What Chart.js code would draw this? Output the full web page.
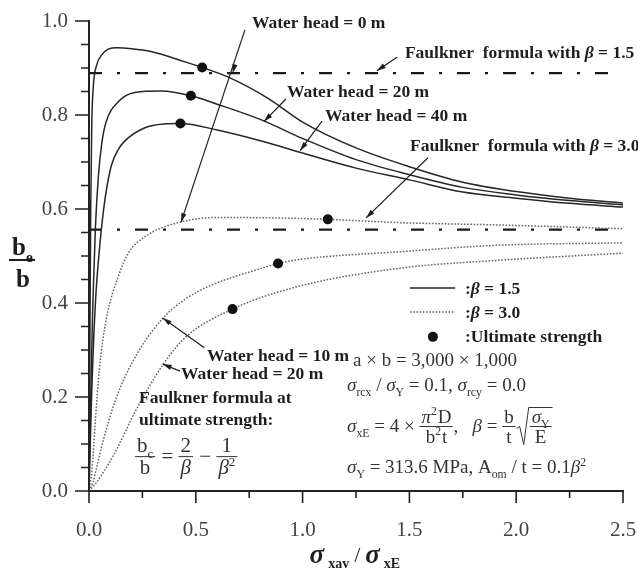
<!DOCTYPE html>
<html><head><meta charset="utf-8">
<script src="https://cdn.jsdelivr.net/npm/chart.js@4/dist/chart.umd.min.js"></script>
<style>html,body{margin:0;padding:0;background:#fff}canvas{display:block}</style>
</head><body>
<canvas id="c" width="638" height="570"></canvas>
<script>
// ---------------- data ----------------
const xTicksMajor = [0, 0.5, 1.0, 1.5, 2.0, 2.5];
const xTicksMinor = [0.25, 0.75, 1.25, 1.75, 2.25];
const yTicksMajor = [0, 0.2, 0.4, 0.6, 0.8, 1.0];
const yTicksMinor = [0.05,0.1,0.15,0.25,0.3,0.35,0.45,0.5,0.55,0.65,0.7,0.75,0.85,0.9,0.95];

// beta = 1.5 (solid)
const head0Beta15X = [0,0.004,0.008,0.013,0.02,0.035,0.06,0.09,0.13,0.2,0.29,0.45,0.53,0.65,0.84,1.0,1.25,1.5,1.75,2.0,2.25,2.5];
const head0Beta15Y = [0,0.3,0.6,0.78,0.86,0.905,0.928,0.94,0.943,0.941,0.935,0.913,0.901,0.881,0.835,0.785,0.73,0.69,0.657,0.637,0.623,0.613];
const head20Beta15X = [0,0.008,0.018,0.03,0.044,0.06,0.08,0.137,0.215,0.34,0.477,0.6,0.81,1.0,1.25,1.5,1.75,2.0,2.25,2.5];
const head20Beta15Y = [0,0.2,0.4,0.56,0.67,0.74,0.785,0.828,0.848,0.851,0.841,0.823,0.789,0.75,0.705,0.673,0.646,0.63,0.618,0.609];
const head40Beta15X = [0,0.012,0.03,0.05,0.067,0.085,0.106,0.135,0.168,0.262,0.35,0.428,0.6,0.82,1.0,1.25,1.5,1.75,2.0,2.25,2.5];
const head40Beta15Y = [0,0.2,0.4,0.52,0.594,0.65,0.694,0.725,0.745,0.773,0.781,0.782,0.768,0.743,0.719,0.687,0.662,0.636,0.623,0.612,0.604];

// beta = 3.0 (dotted)
const head0Beta30X = [0,0.014,0.03,0.048,0.08,0.14,0.184,0.262,0.417,0.604,0.978,1.118,1.453,1.92,2.5];
const head0Beta30Y = [0,0.045,0.151,0.257,0.364,0.46,0.506,0.541,0.571,0.582,0.58,0.578,0.571,0.566,0.558];
const head10Beta30X = [0,0.02,0.033,0.08,0.142,0.236,0.345,0.45,0.573,0.78,0.885,0.991,1.453,1.92,2.5];
const head10Beta30Y = [0,0.02,0.045,0.13,0.215,0.3,0.367,0.408,0.438,0.47,0.484,0.493,0.509,0.523,0.528];
const head20Beta30X = [0,0.033,0.111,0.22,0.345,0.454,0.672,0.978,1.453,1.92,2.5];
const head20Beta30Y = [0,0.017,0.073,0.172,0.268,0.328,0.387,0.435,0.474,0.491,0.506];

// Faulkner formula levels
const faulknerX = [0, 2.5];
const faulkner15Y = [0.889, 0.889];
const faulkner30Y = [0.556, 0.556];

// ultimate strength points
const ultimateX = [0.53, 0.477, 0.428, 1.118, 0.885, 0.672];
const ultimateY = [0.901, 0.841, 0.782, 0.578, 0.484, 0.387];

// ---------------- helpers ----------------
const pts = (xs, ys) => xs.map((v, i) => ({x: v, y: ys[i]}));
const FAM = '"Liberation Serif","Times New Roman",Times,serif';
const fnt = (sz, b, i) => (i ? 'italic ' : '') + (b ? 'bold ' : '') + sz + 'px ' + FAM;
const T = t => ({t}), I = t => ({t, i: true}), S = t => ({t, sub: true}), P = t => ({t, sup: true});

function runW(ctx, runs, sz, bold) {
  let w = 0;
  for (const r of runs) {
    const s = (r.sub || r.sup) ? sz * 0.62 : sz;
    ctx.font = fnt(s, bold, r.i);
    w += ctx.measureText(r.t).width;
  }
  return w;
}
function drawRuns(ctx, runs, x, base, sz, bold) {
  for (const r of runs) {
    const s = (r.sub || r.sup) ? sz * 0.62 : sz;
    ctx.font = fnt(s, bold, r.i);
    const dy = r.sub ? sz * 0.26 : (r.sup ? -sz * 0.4 : 0);
    ctx.fillText(r.t, x, base + dy);
    x += ctx.measureText(r.t).width + (r.sup ? 1 : 0);
  }
  return x;
}
function drawFrac(ctx, num, den, x, base, sz, bold) {
  const wn = runW(ctx, num, sz, bold), wd = runW(ctx, den, sz, bold);
  const w = Math.max(wn, wd) + 4;
  const ly = base - sz * 0.3;
  ctx.beginPath(); ctx.lineWidth = 1; ctx.moveTo(x, ly); ctx.lineTo(x + w, ly); ctx.stroke();
  drawRuns(ctx, num, x + (w - wn) / 2, ly - sz * 0.2, sz, bold);
  drawRuns(ctx, den, x + (w - wd) / 2, ly + sz * 0.85, sz, bold);
  return x + w + 1;
}
function drawSqrtFrac(ctx, num, den, x, base, sz, bold) {
  const ly = base - sz * 0.3;
  const top = ly - sz * 1.0, bot = ly + sz * 0.95;
  const wn = runW(ctx, num, sz, bold), wd = runW(ctx, den, sz, bold);
  const w = Math.max(wn, wd) + 4;
  ctx.beginPath(); ctx.lineWidth = 1;
  ctx.moveTo(x, ly + 2); ctx.lineTo(x + 3, ly); ctx.lineTo(x + 7, bot); ctx.lineTo(x + 12, top); ctx.lineTo(x + 14 + w, top);
  ctx.stroke();
  return drawFrac(ctx, num, den, x + 13, base, sz, bold);
}
function drawItems(ctx, items, x, base, sz, bold) {
  for (const it of items) {
    if (it.frac) x = drawFrac(ctx, it.frac[0], it.frac[1], x, base, sz, bold);
    else if (it.sqrt) x = drawSqrtFrac(ctx, it.sqrt[0], it.sqrt[1], x, base, sz, bold);
    else x = drawRuns(ctx, it.runs, x, base, sz, bold);
  }
  return x;
}

// ---------------- annotations (placed in data units) ----------------
const notes = [
  {x: 0.763, y: 0.996, sz: 17.5, b: true, items: [{runs: [T('Water head = 0 m')]}]},
  {x: 1.479, y: 0.934, sz: 17.5, b: true, items: [{runs: [T('Faulkner  formula with '), I('β'), T(' = 1.5')]}]},
  {x: 0.927, y: 0.851, sz: 17.5, b: true, items: [{runs: [T('Water head = 20 m')]}]},
  {x: 1.105, y: 0.800, sz: 17.5, b: true, items: [{runs: [T('Water head = 40 m')]}]},
  {x: 1.503, y: 0.736, sz: 17.5, b: true, items: [{runs: [T('Faulkner  formula with '), I('β'), T(' = 3.0')]}]},
  {x: 0.552, y: 0.289, sz: 17.5, b: true, items: [{runs: [T('Water head = 10 m')]}]},
  {x: 0.431, y: 0.251, sz: 17.5, b: true, items: [{runs: [T('Water head = 20 m')]}]},
  {x: 0.234, y: 0.200, sz: 17.5, b: true, items: [{runs: [T('Faulkner formula at')]}]},
  {x: 0.234, y: 0.153, sz: 17.5, b: true, items: [{runs: [T('ultimate strength:')]}]},
  {x: 0.215, y: 0.074, sz: 21, b: false, items: [
    {frac: [[T('b'), S('c')], [T('b')]]}, {runs: [T(' = ')]}, {frac: [[T('2')], [I('β')]]},
    {runs: [T(' − ')]}, {frac: [[T('1')], [I('β'), P('2')]]}]},
  {x: 1.236, y: 0.279, sz: 19, b: false, items: [{runs: [T('a × b = 3,000 × 1,000')]}]},
  {x: 1.208, y: 0.226, sz: 19, b: false, items: [{runs: [I('σ'), S('rcx'), T(' / '), I('σ'), S('Y'), T(' = 0.1, '), I('σ'), S('rcy'), T(' = 0.0')]}]},
  {x: 1.208, y: 0.138, sz: 19, b: false, items: [
    {runs: [I('σ'), S('xE'), T(' = 4 × ')]}, {frac: [[I('π'), P('2'), T('D')], [T('b'), P('2'), T('t')]]},
    {runs: [T(',   '), I('β'), T(' = ')]}, {frac: [[T('b')], [T('t')]]}, {sqrt: [[I('σ'), S('Y')], [T('E')]]}]},
  {x: 1.208, y: 0.051, sz: 19, b: false, items: [{runs: [I('σ'), S('Y'), T(' = 313.6 MPa, A'), S('om'), T(' / t = 0.1'), I('β'), P('2')]}]},
  {x: 1.760, y: 0.432, sz: 17.5, b: true, items: [{runs: [T(':'), I('β'), T(' = 1.5')]}]},
  {x: 1.760, y: 0.381, sz: 17.5, b: true, items: [{runs: [T(':'), I('β'), T(' = 3.0')]}]},
  {x: 1.760, y: 0.328, sz: 17.5, b: true, items: [{runs: [T(':Ultimate strength')]}]}
];
const arrows = [
  {from: [0.730, 0.981], to: [0.431, 0.572], mid: [0.672, 0.889]},
  {from: [1.442, 0.923], to: [1.348, 0.894]},
  {from: [0.922, 0.834], to: [0.819, 0.786]},
  {from: [1.091, 0.787], to: [0.988, 0.724]},
  {from: [1.587, 0.709], to: [1.297, 0.581]},
  {from: [0.540, 0.305], to: [0.345, 0.368]},
  {from: [0.426, 0.255], to: [0.345, 0.270]}
];
const legendRows = [
  {ds: 0, x0: 1.503, x1: 1.714, y: 0.432},
  {ds: 3, x0: 1.503, x1: 1.714, y: 0.381},
  {ds: 8, x0: 1.610, x1: 1.610, y: 0.328, dot: true}
];

function arrowHead(ctx, x0, y0, x1, y1) {
  const a = Math.atan2(y1 - y0, x1 - x0), L = 9, W = 2.6;
  ctx.beginPath();
  ctx.moveTo(x1, y1);
  ctx.lineTo(x1 - L * Math.cos(a) + W * Math.sin(a), y1 - L * Math.sin(a) - W * Math.cos(a));
  ctx.lineTo(x1 - L * Math.cos(a) - W * Math.sin(a), y1 - L * Math.sin(a) + W * Math.cos(a));
  ctx.closePath(); ctx.fill();
}

const decor = {
  id: 'decor',
  afterDatasetsDraw(chart) {
    const {ctx, scales: {x, y}} = chart;
    const px = v => x.getPixelForValue(v), py = v => y.getPixelForValue(v);
    ctx.save();
    ctx.fillStyle = '#1e1e1e'; ctx.strokeStyle = '#1e1e1e';
    ctx.textBaseline = 'alphabetic'; ctx.textAlign = 'left';
    for (const a of arrows) {
      const x0 = px(a.from[0]), y0 = py(a.from[1]), x1 = px(a.to[0]), y1 = py(a.to[1]);
      ctx.beginPath(); ctx.lineWidth = 1.2; ctx.moveTo(x0, y0); ctx.lineTo(x1, y1); ctx.stroke();
      arrowHead(ctx, x0, y0, x1, y1);
      if (a.mid) arrowHead(ctx, x0, y0, px(a.mid[0]), py(a.mid[1]));
    }
    for (const n of notes) {
      ctx.fillStyle = n.b ? '#1e1e1e' : '#333'; ctx.strokeStyle = ctx.fillStyle;
      drawItems(ctx, n.items, px(n.x), py(n.y) + n.sz * 0.32, n.sz, n.b);
    }
    for (const r of legendRows) {
      const ds = chart.data.datasets[r.ds];
      if (r.dot) {
        ctx.beginPath(); ctx.fillStyle = ds.pointBackgroundColor;
        ctx.arc(px(r.x0), py(r.y), ds.pointRadius, 0, Math.PI * 2); ctx.fill();
      } else {
        ctx.beginPath(); ctx.strokeStyle = ds.borderColor; ctx.lineWidth = ds.borderWidth;
        ctx.setLineDash(ds.borderDash || []);
        ctx.moveTo(px(r.x0), py(r.y)); ctx.lineTo(px(r.x1), py(r.y)); ctx.stroke();
        ctx.setLineDash([]);
      }
    }
    ctx.restore();
  },
  afterDraw(chart) {
    const {ctx, chartArea: ca, scales: {x, y}} = chart;
    ctx.save();
    ctx.strokeStyle = '#222'; ctx.lineWidth = 1.6;
    ctx.beginPath();
    for (const v of xTicksMajor) { const p = x.getPixelForValue(v); ctx.moveTo(p, ca.bottom); ctx.lineTo(p, ca.bottom + 12); }
    for (const v of xTicksMinor) { const p = x.getPixelForValue(v); ctx.moveTo(p, ca.bottom); ctx.lineTo(p, ca.bottom + 7); }
    for (const v of yTicksMajor) { const p = y.getPixelForValue(v); ctx.moveTo(ca.left, p); ctx.lineTo(ca.left - 14, p); }
    for (const v of yTicksMinor) { const p = y.getPixelForValue(v); ctx.moveTo(ca.left, p); ctx.lineTo(ca.left - 8, p); }
    ctx.stroke();
    // y axis title: b_e / b
    ctx.fillStyle = '#1e1e1e'; ctx.strokeStyle = '#1e1e1e';
    ctx.textBaseline = 'alphabetic'; ctx.textAlign = 'left';
    const cx = ca.left - 67, my = y.getPixelForValue(0.5);
    drawRuns(ctx, [T('b'), S('e')], cx - 10, my - 1, 25, true);
    ctx.beginPath(); ctx.lineWidth = 2; ctx.moveTo(cx - 13, my + 4); ctx.lineTo(cx + 13, my + 4); ctx.stroke();
    ctx.font = fnt(25, true, false); ctx.textAlign = 'center';
    ctx.fillText('b', cx + 1, my + 31);
    // x axis title: sigma_xav / sigma_xE
    ctx.textAlign = 'left';
    let bx = x.getPixelForValue(1.0) + 7;
    const by = ca.bottom + 72;
    ctx.font = fnt(27, true, true); ctx.fillText('σ', bx, by); bx += ctx.measureText('σ').width + 4;
    ctx.font = fnt(14, true, false); ctx.fillText('xav', bx, by + 5); bx += ctx.measureText('xav').width + 5;
    ctx.font = fnt(22, false, false); ctx.fillText('/', bx, by - 1); bx += ctx.measureText('/').width + 5;
    ctx.font = fnt(27, true, true); ctx.fillText('σ', bx, by); bx += ctx.measureText('σ').width + 4;
    ctx.font = fnt(14, true, false); ctx.fillText('xE', bx, by + 5);
    ctx.restore();
  }
};

const solid = {borderColor: '#262626', borderWidth: 1.5, borderDash: []};
const dotted = {borderColor: '#666666', borderWidth: 1.5, borderDash: [1.6, 1.6]};
const dashDot = {borderColor: '#1a1a1a', borderWidth: 2.2, borderDash: [13, 15, 3, 15]};
const lineDs = (label, xs, ys, st) => Object.assign({
  label, data: pts(xs, ys), showLine: true, pointRadius: 0, fill: false,
  tension: 0.4, cubicInterpolationMode: 'monotone'
}, st);

new Chart(document.getElementById('c'), {
  type: 'scatter',
  data: {
    datasets: [
      lineDs('Water head = 0 m, β = 1.5', head0Beta15X, head0Beta15Y, solid),
      lineDs('Water head = 20 m, β = 1.5', head20Beta15X, head20Beta15Y, solid),
      lineDs('Water head = 40 m, β = 1.5', head40Beta15X, head40Beta15Y, solid),
      lineDs('Water head = 0 m, β = 3.0', head0Beta30X, head0Beta30Y, dotted),
      lineDs('Water head = 10 m, β = 3.0', head10Beta30X, head10Beta30Y, dotted),
      lineDs('Water head = 20 m, β = 3.0', head20Beta30X, head20Beta30Y, dotted),
      lineDs('Faulkner formula with β = 1.5', faulknerX, faulkner15Y, dashDot),
      lineDs('Faulkner formula with β = 3.0', faulknerX, faulkner30Y, dashDot),
      {label: 'Ultimate strength', data: pts(ultimateX, ultimateY), showLine: false, order: -1,
       pointRadius: 5, pointHoverRadius: 5, pointBackgroundColor: '#111', pointBorderColor: '#111', pointBorderWidth: 0}
    ]
  },
  options: {
    responsive: false, animation: false, devicePixelRatio: 1,
    layout: {padding: {left: 0, top: 21, right: 15, bottom: 0}},
    plugins: {legend: {display: false}, tooltip: {enabled: false}},
    scales: {
      x: {
        type: 'linear', min: 0, max: 2.5,
        grid: {display: false, drawTicks: false},
        border: {display: true, color: '#222', width: 2},
        ticks: {stepSize: 0.5, autoSkip: false, padding: 27, color: '#444', maxRotation: 0,
                font: {family: FAM, size: 21}, callback: v => v.toFixed(1)},
        afterFit: s => { s.height = 79; s.paddingLeft = 0; s.paddingRight = 0; }
      },
      y: {
        type: 'linear', min: 0, max: 1,
        grid: {display: false, drawTicks: false},
        border: {display: true, color: '#222', width: 2},
        ticks: {stepSize: 0.2, autoSkip: false, padding: 21, color: '#444',
                font: {family: FAM, size: 21}, callback: v => v.toFixed(1)},
        afterFit: s => { s.width = 89; s.paddingTop = 0; s.paddingBottom = 0; }
      }
    }
  },
  plugins: [decor]
});
</script>
</body></html>
